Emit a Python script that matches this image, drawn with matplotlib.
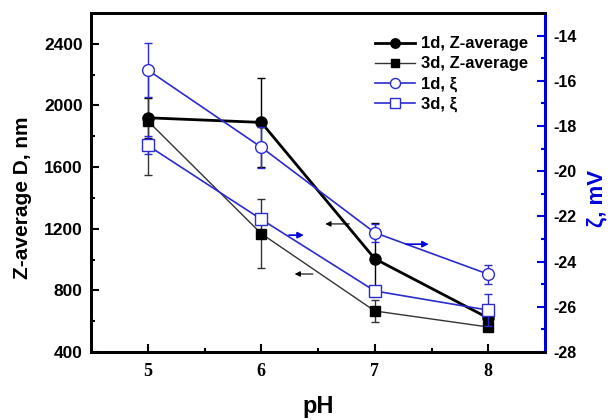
import numpy as np
import matplotlib
matplotlib.use("Agg")
import matplotlib.pyplot as plt

# data
ph = [5, 6, 7, 8]
z1d = [1920, 1890, 1005, 620]
z1d_err = [130, 290, 230, 0]
z3d = [1900, 1168, 666, 562]
z3d_err = [350, 225, 70, 0]
xi1d = [-15.52, -18.94, -22.72, -24.56]
xi1d_err = [1.2, 0.9, 0.4, 0.43]
xi3d = [-18.86, -22.13, -25.3, -26.15]
xi3d_err = [0.4, 0.0, 0.0, 0.7]

blue = '#2b2bd0'
spine_blue = '#0000dd'

plt.rcParams['font.family'] = ['Liberation Sans', 'DejaVu Sans']
plt.rcParams['font.weight'] = 'bold'
plt.rcParams['axes.unicode_minus'] = False

fig = plt.figure(figsize=(6.09, 4.2), dpi=100)
ax = fig.add_axes([0.1494, 0.162, 0.7456, 0.807])
ax2 = ax.twinx()

l1 = ax.errorbar(ph, z1d, yerr=z1d_err, color='black', lw=2, marker='o', ms=8,
                 mfc='black', mec='black', elinewidth=1, capsize=3, label='1d, Z-average')
l2 = ax.errorbar(ph, z3d, yerr=z3d_err, color='#333333', lw=1, marker='s', ms=7.5,
                 mfc='black', mec='black', elinewidth=1, capsize=3, label='3d, Z-average')
l3 = ax2.errorbar(ph, xi1d, yerr=xi1d_err, color=blue, lw=1.2, marker='o', ms=8.5,
                  mfc='white', mec=blue, elinewidth=1, capsize=3, label='1d, ξ')
l4 = ax2.errorbar(ph, xi3d, yerr=xi3d_err, color=blue, lw=1.2, marker='s', ms=8,
                  mfc='white', mec=blue, elinewidth=1, capsize=3, label='3d, ξ')

ax.set_xlim(4.5, 8.5)
ax.set_ylim(400, 2600)
ax2.set_ylim(-28, -13)

ax.set_xticks(ph)
ax.set_xticks([5.5, 6.5, 7.5], minor=True)
ax.set_yticks(np.arange(400, 2401, 400))
ax.set_yticks(np.arange(600, 2600, 400), minor=True)
ax2.set_yticks(np.arange(-28, -13, 2))
ax2.set_yticks(np.arange(-27, -12, 2), minor=True)

ax.tick_params(axis='both', which='both', direction='in', width=1.5)
ax.tick_params(axis='both', which='major', length=6)
ax.tick_params(axis='both', which='minor', length=3)
ax.tick_params(axis='y', labelsize=12.5, pad=6)
ax.tick_params(axis='x', labelsize=13, pad=8)
for t in ax.get_xticklabels():
    t.set_fontfamily('Liberation Serif')
    t.set_fontweight('bold')
ax2.tick_params(axis='y', which='both', direction='in', color=spine_blue, width=1.5,
                labelsize=11.5, pad=6)
ax2.tick_params(axis='y', which='major', length=6)
ax2.tick_params(axis='y', which='minor', length=3)

for s in ['left', 'bottom', 'top']:
    ax.spines[s].set_linewidth(2)
    ax2.spines[s].set_linewidth(2)
ax2.spines['right'].set_color(spine_blue)
ax2.spines['right'].set_linewidth(2.2)

ax.set_ylabel('Z-average D, nm', fontsize=15, fontweight='bold', va='center')
ax.yaxis.set_label_coords(-0.15, 0.455)
ax2.set_ylabel('ζ, mV', fontsize=16, fontweight='bold', color=spine_blue,
               rotation=90, va='center')
ax2.yaxis.set_label_coords(1.115, 0.454)
ax.set_xlabel('pH', fontsize=17, fontweight='bold', va='center')
ax.xaxis.set_label_coords(0.5, -0.162)

# arrows showing which axis each curve belongs to
ax.annotate('', xy=(6.27, 906), xytext=(6.48, 906),
            arrowprops=dict(arrowstyle='-|>', color='black', lw=0.8, mutation_scale=8))
ax.annotate('', xy=(6.54, 1231), xytext=(6.80, 1231),
            arrowprops=dict(arrowstyle='-|>', color='black', lw=0.8, mutation_scale=8))
ax2.annotate('', xy=(6.40, -22.83), xytext=(6.22, -22.83),
             arrowprops=dict(arrowstyle='-|>', color=spine_blue, lw=1.2, mutation_scale=9))
ax2.annotate('', xy=(7.50, -23.23), xytext=(7.25, -23.23),
             arrowprops=dict(arrowstyle='-|>', color=spine_blue, lw=1.2, mutation_scale=9))

handles = [l1, l2, l3, l4]
leg = ax2.legend(handles=[h[0] for h in handles],
                 labels=['1d, Z-average', '3d, Z-average', '1d, ξ', '3d, ξ'],
                 loc='upper right', bbox_to_anchor=(0.995, 0.975), frameon=False,
                 fontsize=12, handlelength=2.4, handletextpad=0.35, labelspacing=0.3,
                 markerscale=0.85)
for t in leg.get_texts():
    t.set_fontweight('bold')

fig.savefig('out.png', dpi=100)
